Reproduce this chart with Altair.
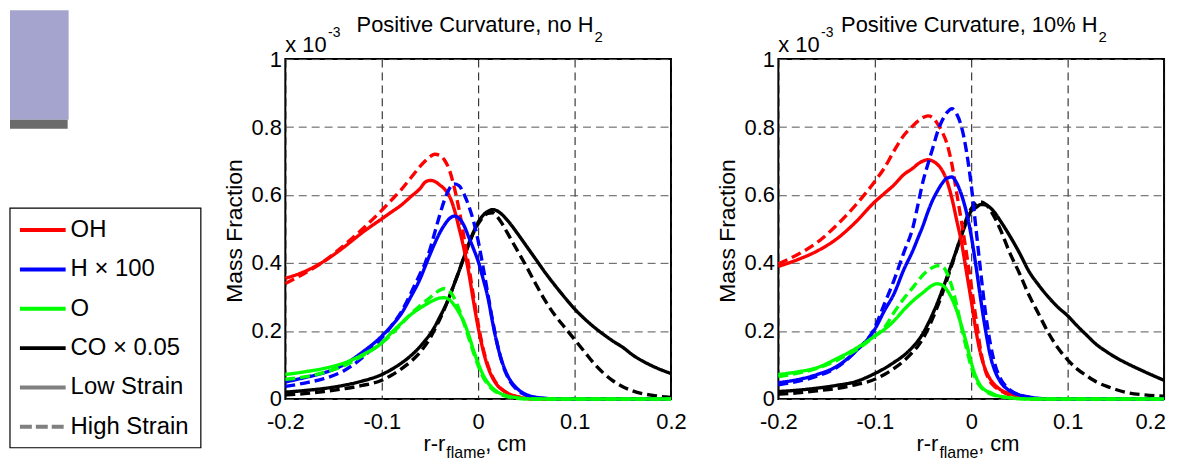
import altair as alt
import pandas as pd

FONT = "Liberation Sans"

# ---------------- data ----------------
X_GRID = [-0.2, -0.18, -0.16, -0.14, -0.12, -0.1, -0.09, -0.08, -0.07, -0.06,
          -0.055, -0.05, -0.045, -0.04, -0.035, -0.03, -0.025, -0.02, -0.015, -0.01,
          -0.005, 0.0, 0.005, 0.01, 0.015, 0.02, 0.025, 0.03, 0.04, 0.05,
          0.06, 0.07, 0.08, 0.09, 0.1, 0.11, 0.12, 0.13, 0.14, 0.15,
          0.16, 0.18, 0.2]

# Panel 1: Positive Curvature, no H2
P1_OH_LOW = [.355, .375, .405, .445, .49, .53, .55, .57, .595, .62,
             .638, .643, .640, .630, .618, .598, .56, .505, .445, .375,
             .29, .21, .145, .095, .062, .04, .027, .018, .007, .002,
             .0005, 0, 0, 0, 0, 0, 0, 0, 0, 0, 0, 0, 0]
P1_OH_HIGH = [.34, .37, .405, .45, .50, .555, .585, .615, .65, .685,
              .70, .713, .72, .717, .703, .675, .625, .56, .48, .395,
              .305, .22, .15, .10, .065, .042, .028, .018, .007, .002,
              0, 0, 0, 0, 0, 0, 0, 0, 0, 0, 0, 0, 0]
P1_H_LOW = [.05, .063, .077, .10, .138, .185, .215, .25, .30, .355,
            .39, .425, .458, .488, .512, .53, .538, .532, .512, .478,
            .443, .405, .355, .30, .225, .158, .108, .072, .032, .013,
            .005, .002, .0005, 0, 0, 0, 0, 0, 0, 0, 0, 0, 0]
P1_H_HIGH = [.037, .047, .06, .082, .122, .18, .215, .255, .31, .37,
             .40, .44, .49, .54, .585, .618, .633, .628, .605, .57,
             .525, .465, .39, .31, .23, .16, .105, .068, .028, .011,
             .004, .001, 0, 0, 0, 0, 0, 0, 0, 0, 0, 0, 0]
P1_O_LOW = [.072, .08, .09, .105, .13, .165, .195, .222, .248, .268,
            .277, .285, .292, .297, .298, .292, .277, .255, .228, .19,
            .145, .105, .072, .048, .032, .021, .014, .009, .004, .001,
            0, 0, 0, 0, 0, 0, 0, 0, 0, 0, 0, 0, 0]
P1_O_HIGH = [.058, .065, .078, .097, .127, .165, .19, .22, .25, .275,
             .287, .298, .31, .32, .325, .318, .298, .265, .225, .182,
             .138, .098, .065, .043, .028, .018, .011, .007, .002, 0,
             0, 0, 0, 0, 0, 0, 0, 0, 0, 0, 0, 0, 0]
P1_CO_LOW = [.02, .025, .031, .04, .053, .072, .087, .105, .127, .155,
             .172, .19, .213, .24, .268, .30, .337, .375, .415, .455,
             .49, .52, .54, .552, .557, .553, .542, .527, .49, .45,
             .41, .37, .333, .298, .265, .237, .212, .19, .17, .152,
             .13, .098, .075]
P1_CO_HIGH = [.012, .016, .022, .03, .04, .055, .07, .088, .11, .138,
              .157, .178, .205, .233, .265, .30, .337, .375, .415, .453,
              .488, .515, .535, .546, .548, .535, .515, .49, .44, .39,
              .337, .287, .245, .21, .175, .14, .105, .076, .053, .036,
              .024, .011, .005]

# Panel 2: Positive Curvature, 10% H2
P2_OH_LOW = [.39, .41, .435, .47, .52, .58, .605, .63, .66, .68,
             .692, .70, .704, .70, .69, .672, .64, .59, .525, .46,
             .375, .29, .20, .13, .085, .057, .04, .028, .016, .006,
             .002, .0005, 0, 0, 0, 0, 0, 0, 0, 0, 0, 0, 0]
P2_OH_HIGH = [.398, .425, .46, .51, .57, .64, .68, .73, .775, .805,
              .818, .828, .833, .828, .81, .785, .75, .69, .605, .52,
              .43, .335, .235, .14, .08, .05, .035, .025, .011, .004,
              .001, 0, 0, 0, 0, 0, 0, 0, 0, 0, 0, 0, 0]
P2_H_LOW = [.048, .057, .072, .095, .14, .205, .26, .31, .38, .44,
            .475, .51, .55, .585, .612, .635, .65, .653, .635, .60,
            .55, .48, .39, .29, .20, .125, .08, .052, .024, .012,
            .006, .002, .0005, 0, 0, 0, 0, 0, 0, 0, 0, 0, 0]
P2_H_HIGH = [.042, .052, .067, .092, .14, .21, .28, .35, .43, .51,
             .575, .64, .69, .737, .785, .82, .843, .854, .838, .80,
             .73, .63, .50, .37, .25, .16, .098, .062, .027, .012,
             .005, .001, 0, 0, 0, 0, 0, 0, 0, 0, 0, 0, 0]
P2_O_LOW = [.072, .08, .092, .118, .148, .185, .205, .23, .262, .29,
            .302, .313, .325, .335, .339, .335, .32, .295, .26, .215,
            .165, .108, .065, .038, .025, .019, .012, .008, .004, .001,
            0, 0, 0, 0, 0, 0, 0, 0, 0, 0, 0, 0, 0]
P2_O_HIGH = [.066, .076, .09, .113, .143, .185, .21, .255, .295, .33,
             .348, .365, .378, .387, .392, .39, .37, .33, .275, .21,
             .15, .095, .056, .035, .022, .015, .01, .007, .003, .001,
             0, 0, 0, 0, 0, 0, 0, 0, 0, 0, 0, 0, 0]
P2_CO_LOW = [.022, .026, .032, .04, .051, .075, .09, .108, .128, .155,
             .172, .193, .22, .25, .283, .32, .36, .40, .44, .482,
             .52, .553, .563, .572, .571, .562, .546, .525, .48, .43,
             .375, .335, .30, .27, .245, .215, .187, .16, .14, .122,
             .107, .08, .055]
P2_CO_HIGH = [.014, .018, .024, .031, .042, .058, .072, .09, .112, .14,
              .157, .178, .205, .237, .272, .31, .352, .395, .44, .485,
              .53, .56, .575, .58, .573, .555, .53, .50, .43, .37,
              .305, .25, .195, .15, .115, .088, .068, .05, .038, .028,
              .02, .012, .008]

SPECIES = ["OH", "H", "O", "CO"]
SPECIES_COLORS = ["#ff0000", "#0000ff", "#00ff00", "#000000"]
STRAINS = ["Low", "High"]
DRAW_ORDER = ["CO", "OH", "H", "O"]
X_TICKS = [-0.2, -0.1, 0, 0.1, 0.2]
Y_TICKS = [0, 0.2, 0.4, 0.6, 0.8, 1]

LEGEND_LABELS = ["OH", "H \u00d7 100", "O", "CO \u00d7 0.05", "Low Strain", "High Strain"]
LEGEND_COLORS = ["#ff0000", "#0000ff", "#00ff00", "#000000", "#808080", "#808080"]
LEGEND_DASHED = [False, False, False, False, False, True]

PANEL1_TITLE = "Positive Curvature, no H"
PANEL2_TITLE = "Positive Curvature, 10% H"

PANEL1 = {("OH", "Low"): P1_OH_LOW, ("OH", "High"): P1_OH_HIGH,
          ("H", "Low"): P1_H_LOW, ("H", "High"): P1_H_HIGH,
          ("O", "Low"): P1_O_LOW, ("O", "High"): P1_O_HIGH,
          ("CO", "Low"): P1_CO_LOW, ("CO", "High"): P1_CO_HIGH}
PANEL2 = {("OH", "Low"): P2_OH_LOW, ("OH", "High"): P2_OH_HIGH,
          ("H", "Low"): P2_H_LOW, ("H", "High"): P2_H_HIGH,
          ("O", "Low"): P2_O_LOW, ("O", "High"): P2_O_HIGH,
          ("CO", "Low"): P2_CO_LOW, ("CO", "High"): P2_CO_HIGH}

# ---------------- layout ----------------
W, H = 388, 342


def text(txt, x, y, size, align="left", baseline="alphabetic", angle=0):
    return alt.Chart(pd.DataFrame({"t": [txt]})).mark_text(
        align=align, baseline=baseline, fontSize=size, font=FONT,
        color="black", angle=angle
    ).encode(x=alt.value(x), y=alt.value(y), text="t:N")


def panel(series, title, title_right, ylab_x, last_label_shift):
    rows = []
    for (sp, st), vals in series.items():
        for xv, yv in zip(X_GRID, vals):
            rows.append({"x": xv, "y": yv, "species": sp, "strain": st})
    df = pd.DataFrame(rows)

    xs = alt.Scale(domain=[-0.2, 0.2], nice=False, zero=False)
    ys = alt.Scale(domain=[0, 1], nice=False, zero=False)
    color = alt.Color("species:N", scale=alt.Scale(domain=SPECIES, range=SPECIES_COLORS), legend=None)
    dash = alt.StrokeDash("strain:N", scale=alt.Scale(domain=STRAINS, range=[[1, 0], [10, 5]]), legend=None)
    xaxis = alt.Axis(values=X_TICKS, labelExpr="'' + datum.value", title=None,
                     grid=True, gridColor="#111111", gridDash=[8, 5], gridWidth=1,
                     ticks=False, tickSize=0, domain=False, labelFlush=False,
                     labelOffset={"condition": {"test": "datum.value == 0.2",
                                                "value": last_label_shift},
                                  "value": 0},
                     labelPadding=13, labelFont=FONT, labelFontSize=22, labelColor="#000000")
    yaxis = alt.Axis(values=Y_TICKS, labelExpr="'' + datum.value", title=None,
                     grid=True, gridColor="#555555", gridDash=[8, 5], gridWidth=1,
                     ticks=False, tickSize=0, domain=False,
                     labelPadding=4, labelFont=FONT, labelFontSize=22, labelColor="#000000")
    layers = []
    for sp in DRAW_ORDER:
        sub = df[df.species == sp]
        layers.append(
            alt.Chart(sub).mark_line(strokeWidth=3.4, interpolate="monotone").encode(
                x=alt.X("x:Q", scale=xs, axis=xaxis),
                y=alt.Y("y:Q", scale=ys, axis=yaxis),
                color=color, strokeDash=dash, detail="strain:N",
            )
        )
    layers += [
        text(title, title_right, -27, 22, align="right"),
        text("2", title_right + 1, -17, 15),
        text("x 10", 0, -7, 22),
        text("-3", 43, -22, 14),
        text("Mass Fraction", ylab_x, 173, 23, align="center", angle=270),
        text("r-r", 161, 394, 22, align="right"),
        text("flame", 162, 401, 16),
        text(", cm", 201, 394, 22),
    ]
    return alt.layer(*layers).properties(width=W, height=H)


def legend_view():
    n = len(LEGEND_LABELS)
    leg = pd.DataFrame({
        "label": LEGEND_LABELS,
        "color": LEGEND_COLORS,
        "dashed": LEGEND_DASHED,
        "ly": [172 + i * 39.6 for i in range(n)],
    })
    dummy = pd.DataFrame({"a": [0]})
    purple = alt.Chart(dummy).mark_rect(color="#a4a4ce").encode(
        x=alt.value(0), x2=alt.value(59), y=alt.value(-49), y2=alt.value(61))
    bar = alt.Chart(dummy).mark_rect(color="#6b6b6b").encode(
        x=alt.value(0), x2=alt.value(58), y=alt.value(61), y2=alt.value(70))
    box = alt.Chart(dummy).mark_rect(fill="white", stroke="black", strokeWidth=1.2).encode(
        x=alt.value(0), x2=alt.value(192), y=alt.value(150), y2=alt.value(391))
    solid = alt.Chart(leg[~leg.dashed]).mark_rule(strokeWidth=4).encode(
        x=alt.value(10), x2=alt.value(56),
        y=alt.Y("ly:Q", scale=None),
        color=alt.Color("color:N", scale=None))
    dashed = alt.Chart(leg[leg.dashed]).mark_rule(strokeWidth=4, strokeDash=[12, 4]).encode(
        x=alt.value(10), x2=alt.value(56),
        y=alt.Y("ly:Q", scale=None),
        color=alt.Color("color:N", scale=None))
    labels = alt.Chart(leg).mark_text(align="left", baseline="middle", fontSize=24,
                                      font=FONT, color="black").encode(
        x=alt.value(61), y=alt.Y("ly:Q", scale=None, axis=None), text="label:N")
    return alt.layer(purple, bar, box, solid, dashed, labels).properties(
        width=169, height=H, view=alt.ViewBackground(stroke="transparent"))


p1 = panel(PANEL1, PANEL1_TITLE, 310, -44, 0)
p2 = panel(PANEL2, PANEL2_TITLE, 321, -44, -14)

chart = alt.hconcat(legend_view(), p1, p2, spacing=108, bounds="flush").properties(
    padding=0, background="white"
).configure_view(stroke="black", strokeWidth=2)

chart.save("out.html", embed_options={"renderer": "svg", "actions": False})
